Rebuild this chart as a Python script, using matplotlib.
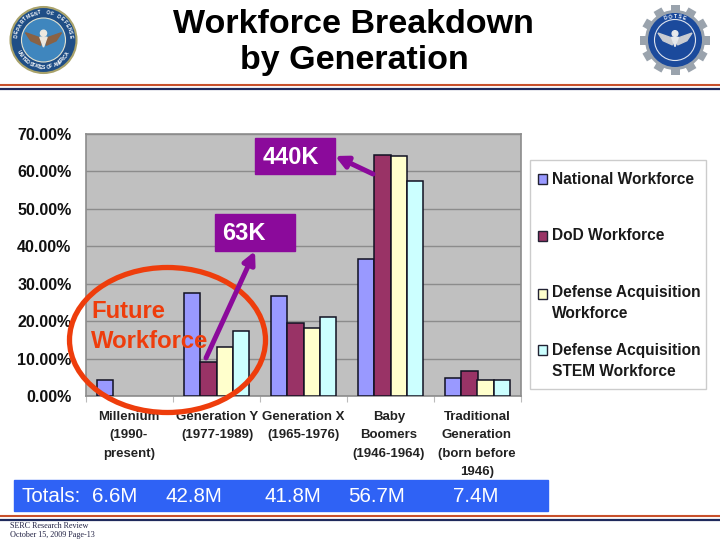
import numpy as np
import matplotlib
matplotlib.use("Agg")
import matplotlib.pyplot as plt
from matplotlib.patches import Circle, Ellipse, Rectangle, FancyArrowPatch, Polygon
from matplotlib.transforms import Affine2D

plt.rcParams["font.family"] = ["Liberation Sans", "DejaVu Sans"]

# ---------------------------------------------------------
# DATA
# ---------------------------------------------------------

generations = [
    "Millenium\n(1990-\npresent)",
    "Generation Y\n(1977-1989)",
    "Generation X\n(1965-1976)",
    "Baby\nBoomers\n(1946-1964)",
    "Traditional\nGeneration\n(born before\n1946)",
]
series_names = [
    "National Workforce",
    "DoD Workforce",
    "Defense Acquisition\nWorkforce",
    "Defense Acquisition\nSTEM Workforce",
]
national = [4.3, 27.4, 26.8, 36.7, 4.7]
dod = [0, 9.0, 19.5, 64.5, 6.8]
acquisition = [0, 13.2, 18.3, 64.2, 4.4]
stem = [0, 17.3, 21.0, 57.4, 4.4]
colors = ["#9999FF", "#993366", "#FFFFCC", "#CCFFFF"]
yticks = [0, 10, 20, 30, 40, 50, 60, 70]
totals = ["6.6M", "42.8M", "41.8M", "56.7M", "7.4M"]

W, H = 720, 540
fig = plt.figure(figsize=(7.2, 5.4), dpi=100, facecolor="white")

# ---------------------------------------------------------
# BAR CHART
# ---------------------------------------------------------

left, right, top, bottom = 86, 521, 134, 396
ax = fig.add_axes([left / W, 1 - bottom / H, (right - left) / W, (bottom - top) / H])
ax.set_facecolor("#C0C0C0")

bar_w = 0.184
x = np.arange(len(generations))
for i, vals in enumerate([national, dod, acquisition, stem]):
    # Solo dibujar las barras con valor
    xs = [p + (i - 1.5) * bar_w for p, v in zip(x, vals) if v > 0]
    ax.bar(xs, [v for v in vals if v > 0], bar_w, color=colors[i],
           edgecolor="#111122", linewidth=1.1, zorder=3)

ax.set_xlim(-0.5, 4.5)
ax.set_ylim(0, 70)
ax.set_yticks(yticks)
ax.set_yticklabels([f"{t:.2f}%" for t in yticks], fontsize=11.5,
                   fontweight="bold", color="#111111")
ax.set_xticks(list(x - 0.5) + [4.5])
ax.set_xticklabels([])
ax.tick_params(axis="x", length=4, color="#BBBBBB", direction="out")
ax.tick_params(axis="y", length=0, pad=10.5)
ax.grid(axis="y", color="#8C8C8C", linewidth=1, zorder=1)
ax.grid(axis="x", visible=False)
ax.set_axisbelow(True)
for s in ax.spines.values():
    s.set_color("#8C8C8C")
    s.set_linewidth(1.2)

# ---------------------------------------------------------
# DECORATION LAYER (pixel coordinates)
# ---------------------------------------------------------

ov = fig.add_axes([0, 0, 1, 1], facecolor="none")
ov.set_xlim(0, W)
ov.set_ylim(H, 0)
ov.axis("off")

ov.text(353, 33, "Workforce Breakdown", ha="center", va="baseline", fontsize=24.5,
        fontweight="bold", color="black")
ov.text(354, 69, "by Generation", ha="center", va="baseline", fontsize=24.5,
        fontweight="bold", color="black")

# Category labels
label_x = [129, 217, 303, 389, 477]
for lx, label in zip(label_x, generations):
    ov.text(lx, 411, label, ha="center", va="top", fontsize=9.5, fontweight="bold",
            color="#222222", linespacing=1.72)

# Purple callouts
purple = "#8B0A9B"
ov.add_patch(Rectangle((255, 138), 80, 36, color=purple, zorder=5))
ov.text(291, 157, "440K", ha="center", va="center", color="white", fontsize=17,
        fontweight="bold", zorder=6)
ov.add_patch(Rectangle((215, 214), 80, 37, color=purple, zorder=5))
ov.text(244, 234, "63K", ha="center", va="center", color="white", fontsize=17,
        fontweight="bold", zorder=6)
ov.add_patch(FancyArrowPatch((373, 174), (335, 156), arrowstyle="-|>", mutation_scale=18,
                             color=purple, linewidth=3.6, shrinkA=0, shrinkB=0, zorder=6))
ov.add_patch(FancyArrowPatch((206, 358), (255, 251), arrowstyle="-|>", mutation_scale=18,
                             color=purple, linewidth=3.6, shrinkA=0, shrinkB=0, zorder=6))

# Future workforce
orange = "#EE3D0C"
ov.add_patch(Ellipse((167.5, 340), 196, 145, fill=False, edgecolor=orange, linewidth=3.8, zorder=5))
ov.text(91, 312, "Future", ha="left", va="center", color=orange, fontsize=17.2,
        fontweight="bold", zorder=6)
ov.text(91, 341, "Workforce", ha="left", va="center", color=orange, fontsize=17.2,
        fontweight="bold", zorder=6)

# Legend
ov.add_patch(Rectangle((530, 160), 176, 229, facecolor="white", edgecolor="#CCCCCC", linewidth=1))
legend_y = [179, 236, 294, 350]
text_y = [179, 236, 303.5, 360.5]
for color, name, sy, ty in zip(colors, series_names, legend_y, text_y):
    ov.add_patch(Rectangle((538, sy - 5), 9, 10, facecolor=color, edgecolor="#222233", linewidth=1))
    ov.text(552, ty, name, ha="left", va="center", fontsize=11.2, fontweight="bold",
            color="#1A1A1A", linespacing=1.5)

# Totals strip
ov.add_patch(Rectangle((14, 480), 534, 31, color="#2F62F5", zorder=4))
ov.text(22, 497, "Totals:", ha="left", va="center", color="white", fontsize=14.8, zorder=5)
for tx, total in zip([115, 193.5, 293, 376.5, 476], totals):
    ov.text(tx, 497, total, ha="center", va="center", color="white", fontsize=14.8, zorder=5)

# Rules
for ry, rc, lw in [(84.5, "#C8502B", 1.5), (88.5, "#1F2A5C", 1.6), (516, "#C8502B", 1.5), (520, "#1F2A5C", 1.6)]:
    ov.plot([0, W], [ry, ry], color=rc, linewidth=lw, solid_capstyle="butt")

ov.text(10, 525.5, "SERC Research Review", ha="left", va="center", family="Liberation Serif",
        fontsize=5.9, color="#222244")
ov.text(10, 535, "October 15, 2009 Page-13", ha="left", va="center", family="Liberation Serif",
        fontsize=5.9, color="#222244")


# ---------------------------------------------------------
# SEALS
# ---------------------------------------------------------

def eagle(cx, cy, r, wing, body):
    for sign in (-1, 1):
        ov.add_patch(Polygon([(cx + sign * r, cy - r * 0.35), (cx + sign * r * 0.15, cy - r * 0.05),
                              (cx + sign * r * 0.15, cy + r * 0.35), (cx + sign * r * 0.7, cy + r * 0.1)],
                             color=wing, zorder=6))
    ov.add_patch(Polygon([(cx - r * 0.2, cy - r * 0.1), (cx + r * 0.2, cy - r * 0.1), (cx, cy + r * 0.45)],
                         color=body, zorder=6))
    ov.add_patch(Circle((cx, cy - r * 0.32), r * 0.17, color=body, zorder=6))


def ring_text(cx, cy, r, text, start, step, flip=False):
    for k, ch in enumerate(text):
        a = start + k * step
        rot = a - 90 if not flip else a + 90
        ov.text(cx + r * np.cos(np.radians(a)), cy - r * np.sin(np.radians(a)), ch, rotation=rot,
                rotation_mode="anchor", ha="center", va="center", fontsize=3.6, fontweight="bold",
                color="white", zorder=6)


# Department of Defense
ov.add_patch(Circle((43.5, 40), 33, facecolor="#1F4E86", edgecolor="#A9A26A", linewidth=1.5, zorder=3))
ov.add_patch(Circle((43.5, 40), 22, facecolor="#3F86BE", edgecolor="#E2E2D0", linewidth=0.8, zorder=4))
ring_text(43.5, 40, 27.5, "DEPARTMENT OF DEFENSE", 172, -8.2)
ring_text(43.5, 40, 27.5, "UNITED STATES OF AMERICA", 205, 5.4, flip=True)
eagle(43.5, 39, 18, "#8A6244", "#EDE8DF")

# Gear seal
cx, cy = 675, 40
for ang in np.arange(0, 360, 30):
    tooth = Rectangle((cx - 4.5, cy - 35), 9, 8, facecolor="#9AA3AD", zorder=3)
    tooth.set_transform(Affine2D().rotate_deg_around(cx, cy, ang) + ov.transData)
    ov.add_patch(tooth)
ov.add_patch(Circle((cx, cy), 30, facecolor="#9AA3AD", zorder=3))
ov.add_patch(Circle((cx, cy), 27, facecolor="#1B4A9C", zorder=4))
ov.add_patch(Circle((cx, cy), 20.5, facecolor="#1B4A9C", edgecolor="#DDE3EE", linewidth=0.8, zorder=5))
ring_text(cx, cy, 23.5, "DOTSE", 112, -11)
eagle(cx, cy - 1, 17, "#C9CCD2", "#E6E8EC")

fig.savefig("out.png", dpi=100)
plt.close(fig)
